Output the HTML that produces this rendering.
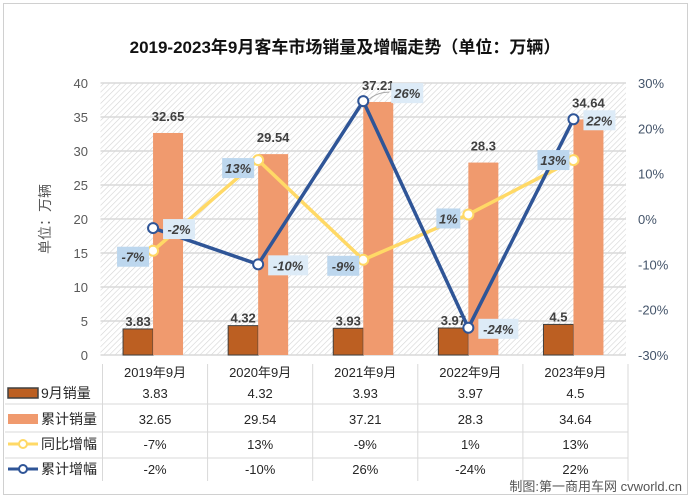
<!DOCTYPE html>
<html><head><meta charset="utf-8"><style>
body{margin:0;background:#fff;}
svg text{font-family:"Liberation Sans","Noto Sans CJK SC",sans-serif;}
</style></head><body>
<svg id="c" width="691" height="498" viewBox="0 0 691 498" xmlns="http://www.w3.org/2000/svg">
<defs>
<pattern id="hatch" width="4" height="4" patternUnits="userSpaceOnUse" patternTransform="rotate(45)">
<rect width="4" height="4" fill="#fff"/><line x1="0" y1="0" x2="0" y2="4" stroke="#d4d4d4" stroke-width="1.2"/>
</pattern>
</defs>
<rect x="3.5" y="3.5" width="684" height="491" fill="#fff" stroke="#d0d0d0"/>
<text x="345" y="53" text-anchor="middle" font-size="17" font-weight="bold" fill="#111">2019-2023年9月客车市场销量及增幅走势（单位：万辆）</text>
<g id="plot"></g>
<g id="table"></g>
<text x="682" y="491" text-anchor="end" font-size="13" fill="#555">制图:第一商用车网 cvworld.cn</text>
</svg>
<script>
const categories=["2019年9月","2020年9月","2021年9月","2022年9月","2023年9月"];
const monthSales=[3.83,4.32,3.93,3.97,4.5];
const cumSales=[32.65,29.54,37.21,28.3,34.64];
const yoyGrowth=[-7,13,-9,1,13];
const cumGrowth=[-2,-10,26,-24,22];
const leftTicks=[0,5,10,15,20,25,30,35,40];
const rightTicks=[-30,-20,-10,0,10,20,30];

const NS="http://www.w3.org/2000/svg";
const X0=100.5,X1=626,Y0=355,Y1=83;
const bw=(X1-X0)/categories.length;
const xc=i=>X0+bw*(i+0.5);
const yL=v=>Y0-(v/40)*(Y0-Y1);
const yR=v=>Y0-((v+30)/60)*(Y0-Y1);
function el(t,a,p,txt){const e=document.createElementNS(NS,t);for(const k in a)e.setAttribute(k,a[k]);if(txt!==undefined)e.textContent=txt;p.appendChild(e);return e;}
const P=document.getElementById('plot');
const bg=el('rect',{x:X0,y:Y1,width:X1-X0,height:Y0-Y1,fill:'url(#hatch)'},P);


leftTicks.forEach(t=>{
 const g=el('line',{x1:X0,x2:X1,y1:yL(t),y2:yL(t),stroke:'#d9d9d9','stroke-width':1.5},P);
 
 
 const l=el('text',{x:88,y:yL(t)+5,'text-anchor':'end','font-size':13,fill:'#595959'},P,t);
 
 
});
rightTicks.forEach(t=>{
 const l=el('text',{x:638,y:yR(t)+5,'font-size':13,fill:'#44546a'},P,t+'%');
 
 
});
const yt=el('text',{x:50,y:219,'text-anchor':'middle','font-size':14,fill:'#595959',transform:'rotate(-90 50 219)'},P,'单位：万辆');


categories.forEach((c,i)=>{
 const x=xc(i);
 const b1=el('rect',{x:x-30,y:yL(monthSales[i]),width:30,height:Y0-yL(monthSales[i]),fill:'#bc5f22',stroke:'#404040','stroke-width':1},P);
 
 
 const b2=el('rect',{x:x,y:yL(cumSales[i]),width:30,height:Y0-yL(cumSales[i]),fill:'#f09a6e'},P);
 
 
 const t1=el('text',{x:x-15,y:yL(monthSales[i])-3,'text-anchor':'middle','font-size':13,'font-weight':'bold',fill:'#404040'},P,monthSales[i]);
 
 
 const t2=el('text',{x:x+15,y:yL(cumSales[i])-12,'text-anchor':'middle','font-size':13,'font-weight':'bold',fill:'#404040'},P,cumSales[i]);
 
 
});
function line(vals,color,name){
 const pl=el('polyline',{points:vals.map((v,i)=>xc(i)+','+yR(v)).join(' '),fill:'none',stroke:color,'stroke-width':3.5},P);
 
 
}
line(yoyGrowth,'#ffd966','yoy-growth');
line(cumGrowth,'#2f5597','cum-growth');
function markers(vals,color,name){vals.forEach((v,i)=>{
 const m=el('circle',{cx:xc(i),cy:yR(v),r:5,fill:'#fff',stroke:color,'stroke-width':2},P);
 
 
});}
markers(yoyGrowth,'#ffd966','yoy-growth');
markers(cumGrowth,'#2f5597','cum-growth');
function label(x,y,txt,fill,name){
 const w=txt.length*8+8;
 const r=el('rect',{x:x-w/2,y:y-10,width:w,height:20,fill:fill},P);
 
 
 const t=el('text',{x:x,y:y+5,'text-anchor':'middle','font-size':13,'font-weight':'bold','font-style':'italic',fill:'#404040'},P,txt);
 
 
}
const yoyOff=[[-20,6],[-20,8],[-20,6],[-20,4],[-20,0]];
yoyGrowth.forEach((v,i)=>label(xc(i)+yoyOff[i][0],yR(v)+yoyOff[i][1],v+'%','#bdd7ee','yoy-growth'));
const cumOff=[[26,1],[30,1],[44,-8],[30,1],[26,1]];
const lead=el('path',{d:`M${xc(2)+6},${yR(cumGrowth[2])-2} Q${xc(2)+14},${yR(cumGrowth[2])-9} ${xc(2)+26},${yR(cumGrowth[2])-9}`,fill:'none',stroke:'#a6a6a6','stroke-width':1},P);


cumGrowth.forEach((v,i)=>label(xc(i)+cumOff[i][0],yR(v)+cumOff[i][1],v+'%','#ddebf7','cum-growth'));

const T=document.getElementById('table');
for(let i=0;i<=categories.length;i++){
 const vx=X0+bw*i+2;
 const v=el('line',{x1:vx,x2:vx,y1:364,y2:481,stroke:'#d9d9d9'},T);
 
 
}
[404,432,458].forEach(y=>{
 const h=el('line',{x1:5,x2:X1+2,y1:y,y2:y,stroke:'#d9d9d9'},T);
 
 
});
const rows=[["9月销量",monthSales.map(String),'bar','#bc5f22'],["累计销量",cumSales.map(String),'bar2','#f09a6e'],["同比增幅",yoyGrowth.map(v=>v+'%'),'line','#ffd966'],["累计增幅",cumGrowth.map(v=>v+'%'),'line','#2f5597']];
const rowCY=[393,419,444,469];
categories.forEach((c,i)=>{
 const t=el('text',{x:xc(i)+2,y:377,'text-anchor':'middle','font-size':13,fill:'#262626'},T,c);
 
 
});
rows.forEach((r,ri)=>{
 const y=rowCY[ri];
 if(r[2]==='bar'){const k=el('rect',{x:8,y:y-5,width:30,height:10,fill:r[3],stroke:'#404040','stroke-width':1.5},T);}
 else if(r[2]==='bar2'){const k=el('rect',{x:8,y:y-5,width:30,height:10,fill:r[3]},T);}
 else{const k=el('line',{x1:8,x2:38,y1:y,y2:y,stroke:r[3],'stroke-width':3},T);
  const kc=el('circle',{cx:23,cy:y,r:4,fill:'#fff',stroke:r[3],'stroke-width':2},T);}
 const n=el('text',{x:41,y:y+5,'font-size':14,fill:'#262626'},T,r[0]);
 
 
 r[1].forEach((v,i)=>{
  const t=el('text',{x:xc(i)+2,y:y+5,'text-anchor':'middle','font-size':13,fill:'#262626'},T,v);
  
  
 });
});
</script>
</body></html>
